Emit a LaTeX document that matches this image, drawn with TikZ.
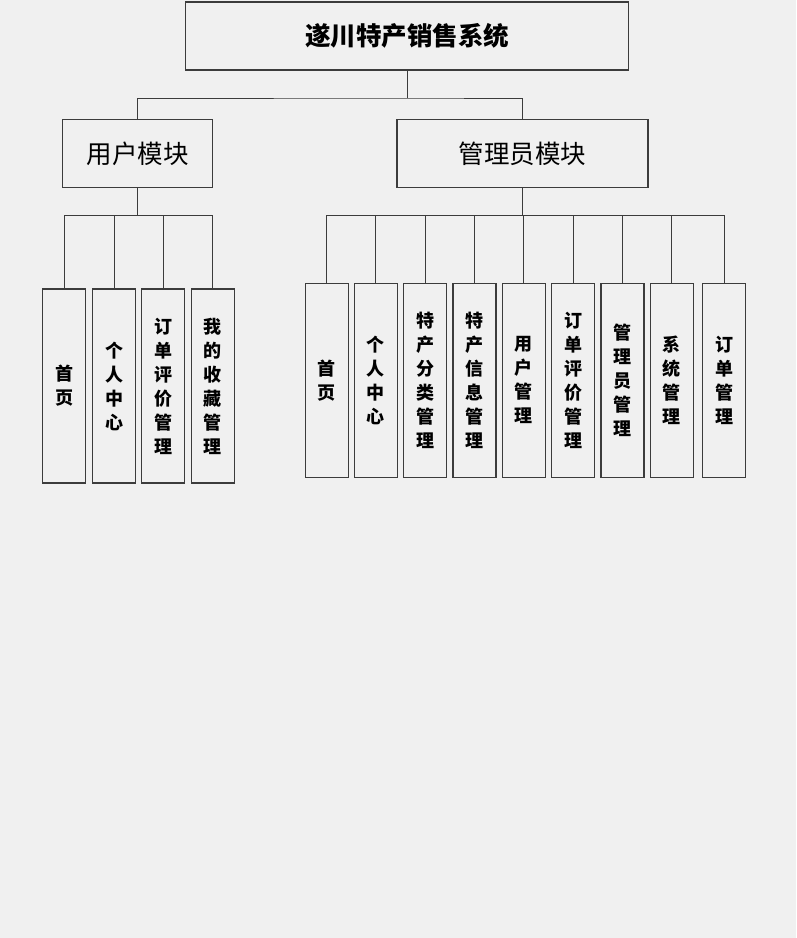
\documentclass[tikz,border=0pt]{standalone}
\usepackage{fontspec}
\newfontfamily\cjk{Noto Sans CJK SC}
\definecolor{bg}{HTML}{F0F0F0}
\definecolor{ln}{HTML}{3C3C3C}
\begin{document}
\begin{tikzpicture}[x=1pt,y=-1pt,
  box/.style={draw=ln, fill=bg, line width=1.1pt, inner sep=0pt, rectangle},
  bigbox/.style={box, minimum height=68pt, font=\cjk\fontsize{25.5}{28}\selectfont},
  leaf/.style={box, minimum width=43pt, minimum height=194pt, align=center,
    font=\cjk\bfseries\fontsize{18}{24}\selectfont},
  conn/.style={draw=ln, line width=1pt}]
\fill[bg] (0,0) rectangle (796,938);
\useasboundingbox (0,0) rectangle (796,938);
\node[bigbox, minimum width=443pt, font=\cjk\bfseries\fontsize{25.5}{28}\selectfont] (top) at (407,36) {遂川特产销售系统};
\node[bigbox, minimum width=150pt] (user) at (137.5,153.5) {用户模块};
\node[bigbox, minimum width=251pt] (admin) at (522.5,153.5) {管理员模块};
\coordinate (b1) at (0,98);
\coordinate (b2) at (0,215);
% user leaves
\node[leaf] (u1) at (64.3,386) {首\\页};
\node[leaf] (u2) at (114,386) {个\\人\\中\\心};
\node[leaf] (u3) at (163.4,386) {订\\单\\评\\价\\管\\理};
\node[leaf] (u4) at (212.7,386) {我\\的\\收\\藏\\管\\理};
% admin leaves
\node[leaf] (a1) at (326.7,380.3) {首\\页};
\node[leaf] (a2) at (375.8,380.3) {个\\人\\中\\心};
\node[leaf] (a3) at (425.2,380.3) {特\\产\\分\\类\\管\\理};
\node[leaf] (a4) at (474.5,380.3) {特\\产\\信\\息\\管\\理};
\node[leaf] (a5) at (523.8,380.3) {用\\户\\管\\理};
\node[leaf] (a6) at (573,380.3) {订\\单\\评\\价\\管\\理};
\node[leaf] (a7) at (622.5,380.3) {管\\理\\员\\管\\理};
\node[leaf] (a8) at (671.8,380.3) {系\\统\\管\\理};
\node[leaf] (a9) at (724,380.3) {订\\单\\管\\理};
% connectors
\draw[conn] (top.south) -- (top.south|-b1);
\draw[conn] (user.north) |- (top.south|-b1) -| (admin.north);
\draw[conn] (user.south) -- (user.south|-b2);
\draw[conn] (u1.north) |- (u4.north|-b2) -- (u4.north);
\foreach \n in {u2,u3} \draw[conn] (\n.north) -- (\n.north|-b2);
\draw[conn] (admin.south) -- (admin.south|-b2);
\draw[conn] (a1.north) |- (a9.north|-b2) -- (a9.north);
\foreach \n in {a2,a3,a4,a5,a6,a7,a8} \draw[conn] (\n.north) -- (\n.north|-b2);
\end{tikzpicture}
\end{document}
